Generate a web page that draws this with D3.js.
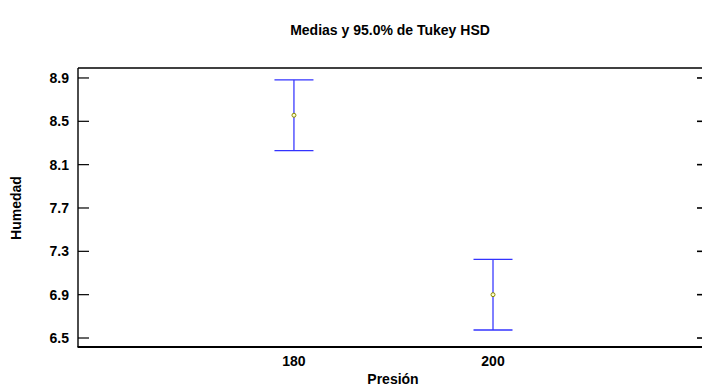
<!DOCTYPE html>
<html>
<head>
<meta charset="utf-8">
<script src="https://cdn.jsdelivr.net/npm/d3@7"></script>
<style>
  html, body { margin: 0; padding: 0; background: #fff; }
  svg { display: block; }
  text { font-family: "Liberation Sans", Arial, sans-serif; font-weight: bold; fill: #000; }
</style>
</head>
<body>
<svg id="chart" width="702" height="387"></svg>
<script>
// Tukey HSD 95% intervals for mean moisture by pressure level
const presion = [180, 200];
const medias = [8.556, 6.900];
const inferior = [8.229, 6.574];
const superior = [8.882, 7.226];
const yTicks = [6.5, 6.9, 7.3, 7.7, 8.1, 8.5, 8.9];

const svg = d3.select("#chart");
const plotL = 78, plotR = 702, plotT = 68, plotB = 347;
const fs = 14;

const x = d3.scaleLinear().domain([158.3, 221.0]).range([plotL, plotR]);
const y = d3.scaleLinear().domain([6.417, 8.992]).range([plotB, plotT]);

// Title
svg.append("text")
  .attr("x", 390).attr("y", 35)
  .attr("text-anchor", "middle")
  .attr("font-size", fs)
  .text("Medias y 95.0% de Tukey HSD");

// Frame: top and bottom borders, left axis
svg.append("line").attr("x1", plotL).attr("x2", plotR).attr("y1", plotT).attr("y2", plotT)
  .attr("stroke", "#000").attr("stroke-width", 1.4);
svg.append("line").attr("x1", plotL - 0.5).attr("x2", plotR).attr("y1", plotB).attr("y2", plotB)
  .attr("stroke", "#000").attr("stroke-width", 2);
svg.append("line").attr("x1", plotL).attr("x2", plotL).attr("y1", plotT).attr("y2", plotB)
  .attr("stroke", "#000").attr("stroke-width", 1.4);

// Left ticks (pointing inward) and labels
const yAxis = svg.append("g");
yAxis.selectAll("line.tl").data(yTicks).join("line")
  .attr("class", "tl")
  .attr("x1", plotL).attr("x2", plotL + 11)
  .attr("y1", d => y(d)).attr("y2", d => y(d))
  .attr("stroke", "#000").attr("stroke-width", 1.2);
yAxis.selectAll("text").data(yTicks).join("text")
  .attr("x", plotL - 9).attr("y", d => y(d) + 5)
  .attr("text-anchor", "end")
  .attr("font-size", fs)
  .text(d => d3.format(".1f")(d));

// Right ticks
svg.selectAll("line.tr").data(yTicks).join("line")
  .attr("class", "tr")
  .attr("x1", plotR - 5).attr("x2", plotR)
  .attr("y1", d => y(d)).attr("y2", d => y(d))
  .attr("stroke", "#000").attr("stroke-width", 1.6);

// X labels
svg.selectAll("text.xl").data(presion).join("text")
  .attr("class", "xl")
  .attr("x", d => x(d)).attr("y", 366)
  .attr("text-anchor", "middle")
  .attr("font-size", fs)
  .text(d => d);

// Axis titles
svg.append("text")
  .attr("x", 393).attr("y", 384)
  .attr("text-anchor", "middle")
  .attr("font-size", fs)
  .text("Presión");
svg.append("text")
  .attr("transform", "translate(21,208) rotate(-90)")
  .attr("text-anchor", "middle")
  .attr("font-size", fs)
  .text("Humedad");

// Interval bars
const g = svg.append("g");
const cap = 19.5;
presion.forEach((p, i) => {
  const cx = x(p);
  g.append("line").attr("x1", cx).attr("x2", cx)
    .attr("y1", y(superior[i])).attr("y2", y(inferior[i]))
    .attr("stroke", "#0000ff").attr("stroke-width", 1);
  g.append("line").attr("x1", cx - cap).attr("x2", cx + cap)
    .attr("y1", y(superior[i])).attr("y2", y(superior[i]))
    .attr("stroke", "#3333ff").attr("stroke-width", 1.3);
  g.append("line").attr("x1", cx - cap).attr("x2", cx + cap)
    .attr("y1", y(inferior[i])).attr("y2", y(inferior[i]))
    .attr("stroke", "#3333ff").attr("stroke-width", 1.3);
  g.append("circle").attr("cx", cx).attr("cy", y(medias[i])).attr("r", 2)
    .attr("fill", "#ffffcc").attr("stroke", "#8a8a00").attr("stroke-width", 1);
});
</script>
</body>
</html>
